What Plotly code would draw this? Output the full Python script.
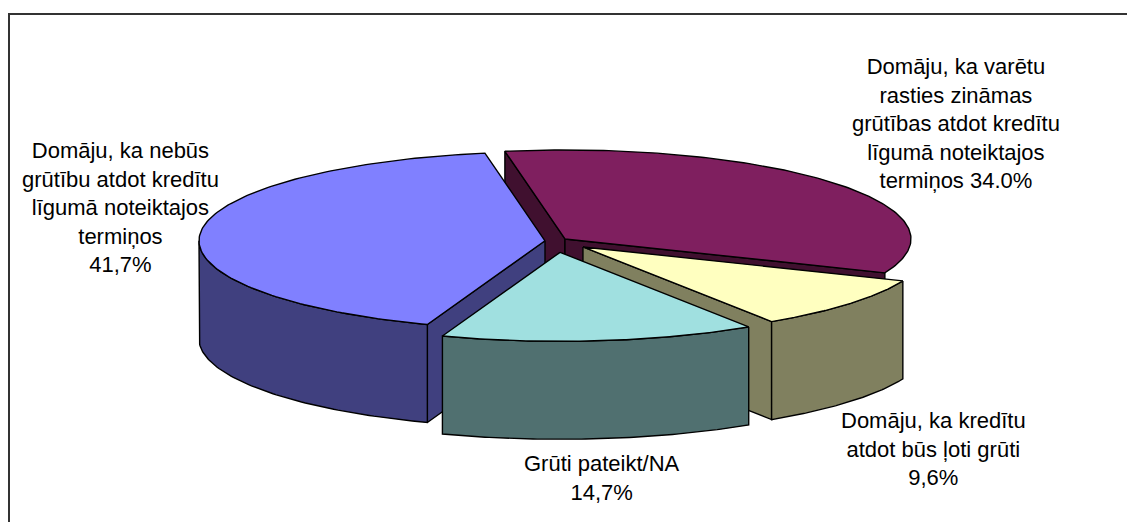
import numpy as np
import plotly.graph_objects as go

# ---- data (clockwise from the first slice) ----
categories = [
    "Domāju, ka varētu<br>rasties zināmas<br>grūtības atdot kredītu<br>līgumā noteiktajos<br>termiņos",
    "Domāju, ka kredītu<br>atdot būs ļoti grūti",
    "Grūti pateikt/NA",
    "Domāju, ka nebūs<br>grūtību atdot kredītu<br>līgumā noteiktajos<br>termiņos",
]
values = [34.0, 9.6, 14.7, 41.7]
value_labels = ["34.0%", "9,6%", "14,7%", "41,7%"]

# ---- style ----
top_colors = ["#7F1F5F", "#FFFFC0", "#A0E0E0", "#8080FF"]
side_colors = ["#40102F", "#80805F", "#507070", "#40407F"]
pull = [0.037, 0.105, 0.128, 0.029]
label_sep = [" ", "<br>", "<br>", "<br>"]
label_pos = [(956, 123), (933, 449), (602, 478), (120, 207)]
draw_order = [0, 3, 1, 2]

W, H_FIG = 1127, 522
CX, CY = 555, 241
RX, RY = 346, 89
DEPTH = 98
FIRST_ANGLE = -10.0


def pt(ox, oy, ang, dz=0.0):
    a = np.radians(ang)
    return ox + RX * np.sin(a), oy - RY * np.cos(a) + dz


fig = go.Figure()

total = float(sum(values))
starts = []
acc = FIRST_ANGLE
for v in values:
    starts.append((acc, acc + 360.0 * v / total))
    acc += 360.0 * v / total


def add_poly(xs, ys, color):
    fig.add_trace(go.Scatter(
        x=list(xs) + [xs[0]], y=list(ys) + [ys[0]], mode="lines", fill="toself",
        fillcolor=color, line=dict(color="black", width=1.4),
        hoverinfo="skip", showlegend=False))


for i in draw_order:
    a0, a1 = starts[i]
    mid = np.radians((a0 + a1) / 2)
    ox = CX + pull[i] * RX * np.sin(mid)
    oy = CY - pull[i] * RY * np.cos(mid)

    # radial faces (only those turned towards the viewer)
    for ang, nrm in ((a0, a0 - 90), (a1, a1 + 90)):
        if np.cos(np.radians(nrm)) < 0:
            rx_, ry_ = pt(ox, oy, ang)
            add_poly([ox, rx_, rx_, ox], [oy, ry_, ry_ + DEPTH, oy + DEPTH], side_colors[i])

    # outer wall (front half only)
    shift = a0 - (a0 % 360)
    lo, hi = a0 - shift, a1 - shift
    b0, b1 = max(lo, 90), min(hi, 270)
    if b1 > b0:
        angs = np.linspace(b0, b1, 80)
        tx, ty = pt(ox, oy, angs)
        bx, by = pt(ox, oy, angs[::-1], DEPTH)
        add_poly(np.concatenate([tx, bx]), np.concatenate([ty, by]), side_colors[i])

    # top surface
    angs = np.linspace(a0, a1, 150)
    tx, ty = pt(ox, oy, angs)
    add_poly(np.concatenate([[ox], tx]), np.concatenate([[oy], ty]), top_colors[i])

for i, txt in enumerate(categories):
    x, y = label_pos[i]
    fig.add_annotation(
        x=x, y=y, xref="x", yref="y", text=txt + label_sep[i] + value_labels[i],
        showarrow=False, xanchor="center", yanchor="middle", align="center",
        font=dict(family="Arial, Liberation Sans, sans-serif", size=22, color="black"))

fig.add_shape(type="rect", x0=9, y0=14, x1=1300, y1=700, xref="x", yref="y",
              line=dict(color="#333333", width=2), layer="below")

fig.update_layout(
    width=W, height=H_FIG, autosize=False,
    margin=dict(l=0, r=0, t=0, b=0),
    paper_bgcolor="white", plot_bgcolor="white",
    xaxis=dict(range=[0, W], visible=False, fixedrange=True),
    yaxis=dict(range=[H_FIG, 0], visible=False, fixedrange=True),
    showlegend=False,
)

fig.write_html(
    "out.html",
    config={"displayModeBar": False},
    post_script="document.body.style.margin='0';document.body.style.overflow='hidden';",
)
